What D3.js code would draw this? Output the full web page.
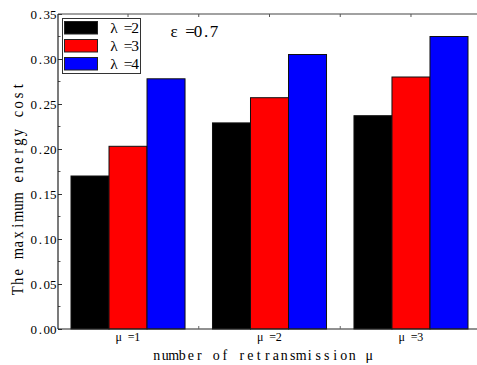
<!DOCTYPE html>
<html>
<head>
<meta charset="utf-8">
<script src="https://cdn.jsdelivr.net/npm/d3@7"></script>
<style>
  html, body { margin: 0; padding: 0; background: #fff; }
  svg { display: block; }
</style>
</head>
<body>
<svg id="chart" width="477" height="365"></svg>
<script>
// Retransmission counts (x categories) and arrival-rate series
const categories = ["μ =1", "μ =2", "μ =3"];
const seriesNames = ["λ =2", "λ =3", "λ =4"];
const seriesColors = ["#000000", "#ff0000", "#0000ff"];
const lambda2 = [0.170, 0.229, 0.237];
const lambda3 = [0.203, 0.257, 0.280];
const lambda4 = [0.278, 0.305, 0.325];
const yTicks = [0.00, 0.05, 0.10, 0.15, 0.20, 0.25, 0.30, 0.35];
const xTitle = "number of retransmission μ";
const yTitle = "The maximum energy cost";
const annotation = "ε =0.7";

const series = [lambda2, lambda3, lambda4];
const FONT = '"Liberation Serif"';

const svg = d3.select("#chart");
const W = 477, H = 365;
const x0 = 58, yTop = 14, yBot = 329;

const x = d3.scaleBand().domain(categories).range([56.85, 482.15])
  .paddingInner(0.194).paddingOuter(0.1);
const xs = d3.scaleBand().domain(seriesNames).range([0, x.bandwidth()]);
const y = d3.scaleLinear().domain([0, 0.35]).range([yBot, yTop]);

// Fixed-pitch text: every glyph is centred in its own cell of width `adv`.
// align: "middle" centres the run on (cx, cy), "end" right-aligns it.
function pitchText(parent, str, o) {
  const chars = Array.from(str);
  const n = chars.length;
  const sx = o.sx || 1;
  const off = o.align === "end" ? -n : -n / 2;
  const xsPos = chars.map((c, i) => ((off + i + 0.5) * o.adv / sx).toFixed(2));
  return parent.append("text")
    .attr("transform", `translate(${o.cx},${o.cy}) rotate(${o.rotate || 0}) scale(${sx},1)`)
    .attr("x", xsPos.join(" "))
    .attr("y", 0)
    .attr("text-anchor", "middle")
    .attr("font-family", FONT)
    .attr("font-size", o.size)
    .attr("fill", "#000")
    .text(str);
}

// Bars
const groups = svg.append("g").selectAll("g")
  .data(categories)
  .join("g")
  .attr("transform", d => `translate(${x(d)},0)`);

groups.selectAll("rect")
  .data((c, i) => seriesNames.map((s, j) => ({ s, j, v: series[j][i] })))
  .join("rect")
  .attr("x", d => xs(d.s))
  .attr("width", xs.bandwidth())
  .attr("y", d => y(d.v))
  .attr("height", d => y(0) - y(d.v))
  .attr("fill", d => seriesColors[d.j])
  .attr("stroke", "#111")
  .attr("stroke-width", 1);

// Left axis: inward major ticks, labels set in fixed pitch
const gy = svg.append("g").attr("transform", `translate(${x0},0)`)
  .call(d3.axisLeft(y).tickValues(yTicks).tickSize(-4).tickFormat(""));
gy.select(".domain").remove();
gy.selectAll(".tick line").attr("stroke", "#333");
yTicks.forEach(v => {
  pitchText(svg, d3.format(".2f")(v), { cx: 56.5, cy: y(v) + 4.5, adv: 6.5, size: 13, align: "end" });
});
svg.append("g").selectAll("line").data(d3.range(0.025, 0.35, 0.05)).join("line")
  .attr("x1", x0).attr("x2", x0 + 2.5)
  .attr("y1", d => y(d)).attr("y2", d => y(d))
  .attr("stroke", "#555");

// Frame lines
svg.append("line").attr("x1", x0).attr("x2", x0).attr("y1", yTop).attr("y2", yBot)
  .attr("stroke", "#222").attr("stroke-width", 1.2);
svg.append("line").attr("x1", x0).attr("x2", W).attr("y1", yBot).attr("y2", yBot)
  .attr("stroke", "#222").attr("stroke-width", 1.2);
svg.append("line").attr("x1", x0).attr("x2", W).attr("y1", yTop).attr("y2", yTop)
  .attr("stroke", "#444").attr("stroke-width", 1.2);

// Category labels under each group
categories.forEach(c => {
  pitchText(svg, c, { cx: x(c) + x.bandwidth() / 2, cy: 341, adv: 6.2, size: 12 });
});

// Ticks between groups (bottom and top) and at group centres (top)
const between = categories.slice(1).map(c => x(c) - x.step() * x.paddingInner() / 2);
svg.append("g").selectAll("line").data(between).join("line")
  .attr("x1", d => d).attr("x2", d => d)
  .attr("y1", yBot).attr("y2", yBot - 3).attr("stroke", "#666");
const topTicks = between.concat(categories.map(c => x(c) + x.bandwidth() / 2));
svg.append("g").selectAll("line").data(topTicks).join("line")
  .attr("x1", d => d).attr("x2", d => d)
  .attr("y1", yTop).attr("y2", yTop + 3).attr("stroke", "#555");

// Axis titles
pitchText(svg, xTitle, { cx: 263, cy: 360, adv: 8.5, size: 15.5, sx: 0.9 });
pitchText(svg, yTitle, { cx: 22.5, cy: 188.5, adv: 9.3, size: 16.5, sx: 0.88, rotate: -90 });

// Legend
const lg = svg.append("g").attr("transform", `translate(${x0 + 4.5},${yTop + 4.5})`);
lg.append("rect").attr("width", 78).attr("height", 55)
  .attr("fill", "#fff").attr("stroke", "#333").attr("stroke-width", 1);
seriesNames.forEach((s, i) => {
  const top = 3 + i * 18;
  lg.append("rect")
    .attr("x", 2).attr("y", top).attr("width", 33).attr("height", 12.5)
    .attr("fill", seriesColors[i]).attr("stroke", "#222");
  pitchText(lg, s, { cx: 76, cy: top + 11.5, adv: 7, size: 15.5, align: "end" });
});

// Parameter annotation
pitchText(svg, annotation, { cx: 194, cy: 37, adv: 8, size: 17 });
</script>
</body>
</html>
